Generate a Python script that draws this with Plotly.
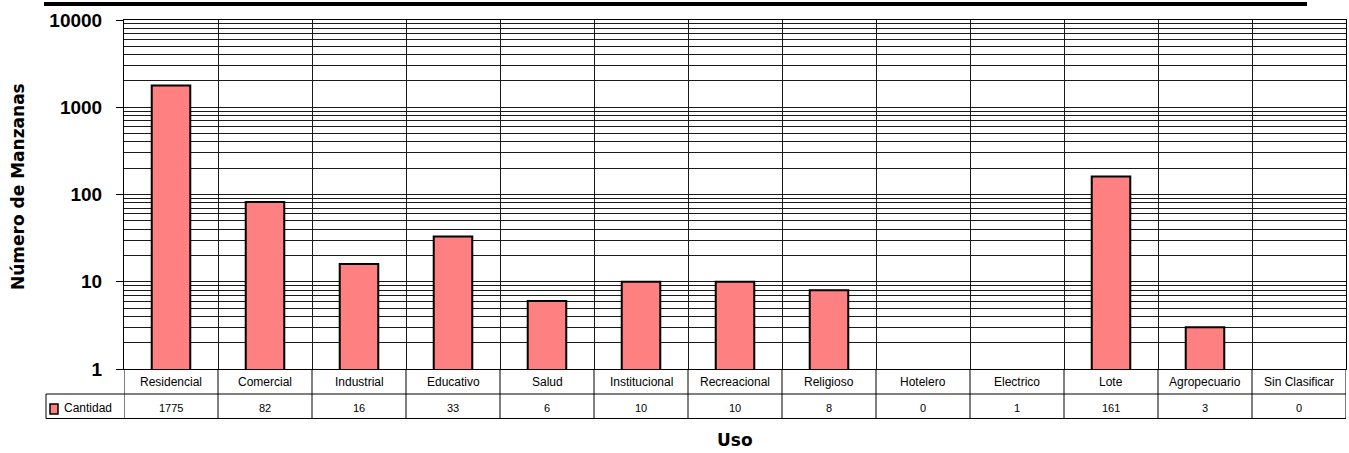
import plotly.graph_objects as go

# Land use per block ("manzana")
categorias = ["Residencial", "Comercial", "Industrial", "Educativo", "Salud",
              "Institucional", "Recreacional", "Religioso", "Hotelero",
              "Electrico", "Lote", "Agropecuario", "Sin Clasificar"]
cantidad = [1775, 82, 16, 33, 6, 10, 10, 8, 0, 1, 161, 3, 0]
serie = "Cantidad"
y_ticks = [1, 10, 100, 1000, 10000]

W, H = 1349, 453
L, R, T, B = 124, 3, 20, 84
PW, PH = W - L - R, H - T - B


def px_x(p):
    return (p - L) / PW


def px_y(p):
    return (H - B - p) / PH


BAR_FILL = "#FF8080"
GRID = "#1a1a1a"
FONT = "Liberation Sans, Arial, sans-serif"
TITLE_FONT = "DejaVu Sans, sans-serif"

# bars that sit at or below the axis floor (log scale starts at 1) have no height,
# so they get no outline either
outline_w = [2 if v > 1 else 0 for v in cantidad]

fig = go.Figure()
fig.add_trace(go.Bar(
    x=categorias, y=cantidad, name=serie, width=0.41,
    marker=dict(color=BAR_FILL, line=dict(color="black", width=outline_w)),
    showlegend=False, hoverinfo="x+y",
))

shapes = []
annotations = []

# data table under the plot: category row and value row
row1_top, row1_bot, row2_bot = 369, 394, 418.5
for i, (cat, val) in enumerate(zip(categorias, cantidad)):
    annotations.append(dict(x=i, y=px_y(381.5), xref="x", yref="paper", text=cat,
                            showarrow=False, xanchor="center", yanchor="middle",
                            font=dict(family=FONT, size=12, color="black")))
    annotations.append(dict(x=i, y=px_y(408), xref="x", yref="paper", text=str(val),
                            showarrow=False, xanchor="center", yanchor="middle",
                            font=dict(family=FONT, size=11, color="black")))

# column borders of the table
for k in range(len(categorias) + 1):
    shapes.append(dict(type="line", xref="x", yref="paper", x0=k - 0.5, x1=k - 0.5,
                       y0=px_y(row1_top), y1=px_y(row2_bot),
                       line=dict(color="black", width=1)))
# row borders
shapes.append(dict(type="line", xref="paper", yref="paper", x0=px_x(46), x1=1,
                   y0=px_y(row1_bot), y1=px_y(row1_bot), line=dict(color="black", width=1)))
shapes.append(dict(type="line", xref="paper", yref="paper", x0=px_x(46), x1=1,
                   y0=px_y(row2_bot), y1=px_y(row2_bot), line=dict(color="black", width=1)))
shapes.append(dict(type="line", xref="paper", yref="paper", x0=px_x(46), x1=px_x(46),
                   y0=px_y(row1_bot), y1=px_y(row2_bot), line=dict(color="black", width=1)))

# legend key inside the table
shapes.append(dict(type="rect", xref="paper", yref="paper",
                   x0=px_x(50), x1=px_x(58), y0=px_y(414), y1=px_y(404),
                   fillcolor=BAR_FILL, line=dict(color="black", width=1.5)))
annotations.append(dict(x=px_x(62), y=px_y(408), xref="paper", yref="paper", text=serie,
                        showarrow=False, xanchor="left", yanchor="middle",
                        font=dict(family=FONT, size=12, color="black")))

# heavy rule across the top
shapes.append(dict(type="rect", xref="paper", yref="paper",
                   x0=px_x(44), x1=px_x(1307), y0=px_y(6), y1=px_y(2),
                   fillcolor="black", line=dict(width=0)))

# axis titles
annotations.append(dict(x=px_x(18), y=px_y(187), xref="paper", yref="paper",
                        text="<b>Número de Manzanas</b>", textangle=-90, showarrow=False,
                        xanchor="center", yanchor="middle",
                        font=dict(family=TITLE_FONT, size=17, color="black")))
annotations.append(dict(x=0.5, y=px_y(440), xref="paper", yref="paper",
                        text="<b>Uso</b>", showarrow=False,
                        xanchor="center", yanchor="middle",
                        font=dict(family=TITLE_FONT, size=17, color="black")))

fig.update_layout(
    width=W, height=H,
    margin=dict(l=L, r=R, t=T, b=B, pad=0),
    paper_bgcolor="white", plot_bgcolor="white",
    bargap=0.59,
    shapes=shapes, annotations=annotations,
    xaxis=dict(type="category", categoryorder="array", categoryarray=categorias,
               tickson="boundaries", showgrid=True, gridcolor=GRID, gridwidth=1,
               showticklabels=False, ticks="", showline=True, linecolor="black",
               linewidth=1, mirror=True, zeroline=False, fixedrange=True,
               range=[-0.5, len(categorias) - 0.5]),
    yaxis=dict(type="log", range=[0, 4], tickvals=y_ticks,
               ticktext=[str(v) for v in y_ticks],
               tickfont=dict(family=FONT, size=19, color="black", weight="bold"),
               ticks="outside", ticklen=7, tickcolor="black", tickwidth=1,
               ticklabelstandoff=10,
               showgrid=True, gridcolor=GRID, gridwidth=1,
               minor=dict(dtick="D1", showgrid=True, gridcolor=GRID, gridwidth=1, ticks=""),
               showline=True, linecolor="black", linewidth=1, mirror=True,
               zeroline=False, fixedrange=True),
)

fig.write_html("out.html")
